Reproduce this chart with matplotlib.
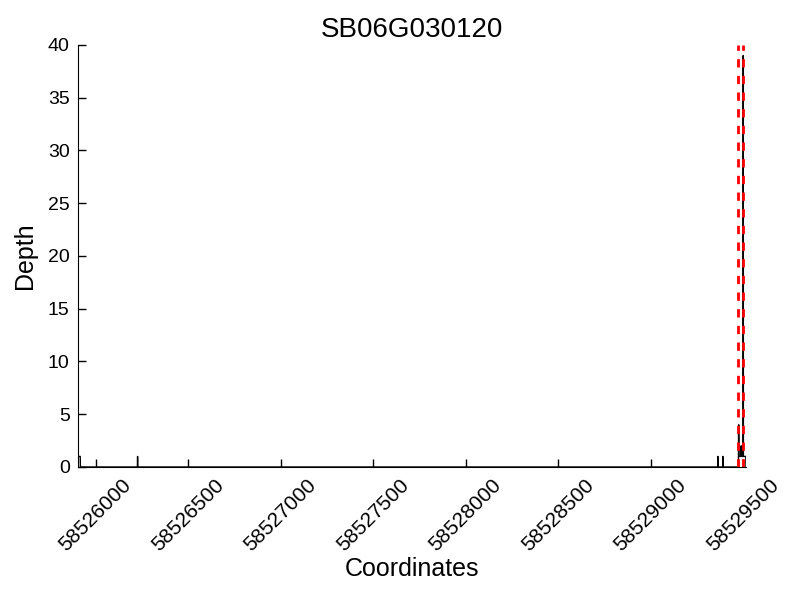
import numpy as np
import matplotlib
matplotlib.use('Agg')
import matplotlib.pyplot as plt

plt.rcParams['font.family'] = ['Liberation Sans', 'DejaVu Sans']
plt.rcParams['lines.scale_dashes'] = False

gene = 'SB06G030120'
start = 58525905
end = 58529515

# covered positions (start, stop, depth); everything else is 0
covered_start = [58525905, 58526227, 58529363, 58529390, 58529476, 58529475, 58529488, 58529500]
covered_stop = [58525918, 58526228, 58529364, 58529391, 58529515, 58529477, 58529491, 58529501]
covered_depth = [1, 1, 1, 1, 1, 4, 2, 39]

marks = [58529473, 58529497]

coords = np.arange(start, end + 1)
depth = np.zeros(len(coords))
for a, b, d in zip(covered_start, covered_stop, covered_depth):
    sel = (coords >= a) & (coords < b)
    depth[sel] = np.maximum(depth[sel], d)

fig = plt.figure(figsize=(8, 6), dpi=100)
ax = fig.add_axes([0.0975, 0.2217, 0.835, 0.7033])
ax.plot(coords, depth, color='black', lw=1)
for m in marks:
    ax.axvline(m, color='red', lw=2, dashes=(6, 6))

ax.set_xlim(start, end)
ax.set_ylim(0, 40)
ax.set_xticks(np.arange(58526000, 58529501, 500))
ax.set_yticks(np.arange(0, 41, 5))
ax.ticklabel_format(useOffset=False, style='plain')
ax.spines['top'].set_visible(False)
ax.spines['right'].set_visible(False)
ax.tick_params(direction='in', length=6, width=1, labelsize=14, top=False, right=False, pad=6)
ax.tick_params(axis='x', labelsize=15)
plt.setp(ax.get_xticklabels(), rotation=45)
ax.set_xlabel('Coordinates', fontsize=18, labelpad=2)
ax.set_ylabel('Depth', fontsize=18, labelpad=8)
ax.set_title(gene, fontsize=20)

fig.savefig('out.png', dpi=100)
